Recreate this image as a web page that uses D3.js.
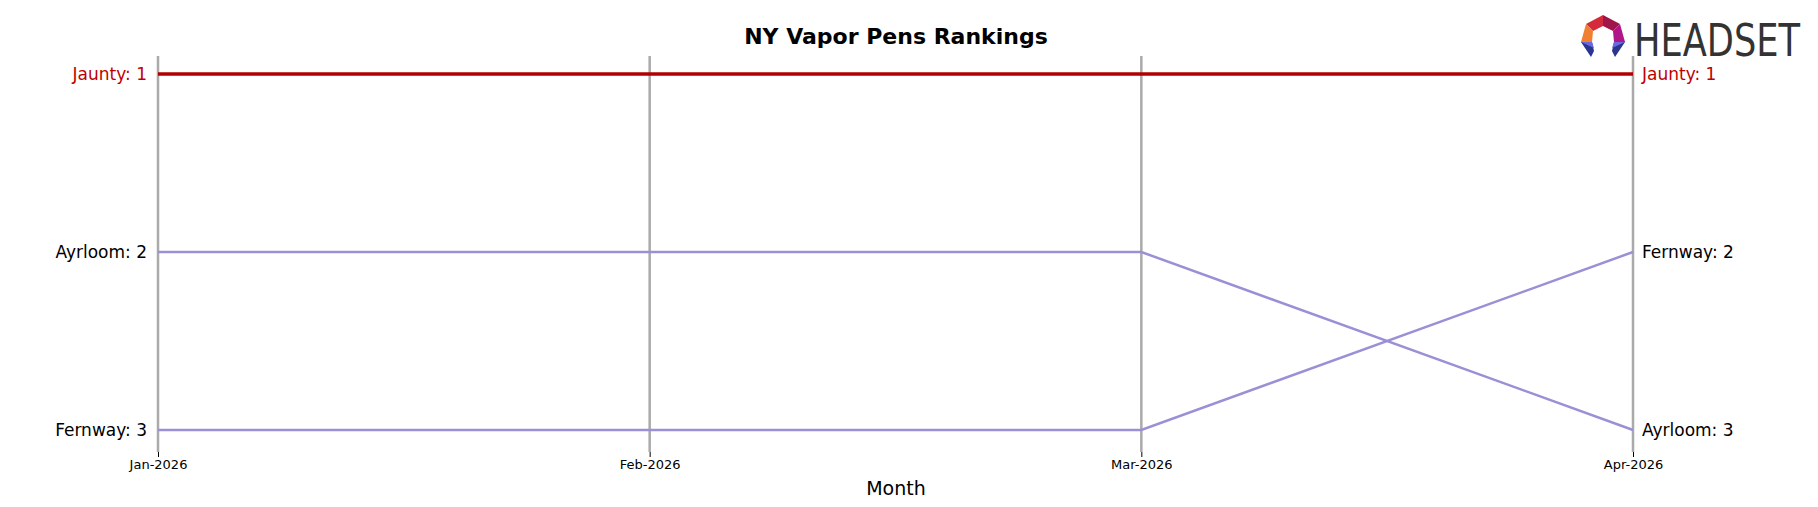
<!DOCTYPE html><html><head><meta charset="utf-8"><script src="https://cdn.jsdelivr.net/npm/d3@7"></script>
<style>body{margin:0;background:#fff}text{font-family:"DejaVu Sans",sans-serif}</style></head><body><svg id="c" width="1818" height="507"></svg>
<script>
const months=["Jan-2026","Feb-2026","Mar-2026","Apr-2026"];
const brands=["Jaunty","Ayrloom","Fernway"];
const jaunty=[1,1,1,1];
const ayrloom=[2,2,2,3];
const fernway=[3,3,3,2];
const series=[{name:"Ayrloom",v:ayrloom,c:"#9b8fd6",w:2.5},{name:"Fernway",v:fernway,c:"#9b8fd6",w:2.5},{name:"Jaunty",v:jaunty,c:"#b00000",w:3.5}];
const svg=d3.select("#c");
const x=d3.scalePoint().domain(months).range([158,1633]);
const y=d3.scaleLinear().domain([1,3]).range([74,430]);
months.forEach(m=>svg.append("line").attr("x1",x(m)).attr("x2",x(m)).attr("y1",56).attr("y2",452).attr("stroke","#aaa").attr("stroke-width",2.5));
const ax=svg.append("g").attr("transform","translate(0,452)").call(d3.axisBottom(x).tickSize(5).tickPadding(3));
ax.select(".domain").remove();
ax.selectAll("text").attr("font-size",13).attr("fill","#000").style("font-family","DejaVu Sans");
const line=d3.line().x((d,i)=>x(months[i])).y(d=>y(d));
series.forEach(s=>{
 svg.append("path").datum(s.v).attr("d",line).attr("fill","none").attr("stroke",s.c).attr("stroke-width",s.w);
 const col=s.name==="Jaunty"?"#c00000":"#000";
 svg.append("text").attr("x",x(months[0])-11).attr("y",y(s.v[0])).attr("dy","0.35em").attr("text-anchor","end").attr("font-size",17).attr("fill",col).text(s.name+": "+s.v[0]);
 svg.append("text").attr("x",x(months[3])+9).attr("y",y(s.v[3])).attr("dy","0.35em").attr("font-size",17).attr("fill",col).text(s.name+": "+s.v[3]);
});
svg.append("text").attr("x",896).attr("y",44).attr("text-anchor","middle").attr("font-size",22).attr("font-weight","bold").text("NY Vapor Pens Rankings");
svg.append("text").attr("x",896).attr("y",495).attr("text-anchor","middle").attr("font-size",19).text("Month");
const lg=svg.append("g").attr("transform","translate(1603,36)");
lg.append("path").attr("d","M0,-21L-17,-12L-10,-5L0,-10Z").attr("fill","#d42a3b");
lg.append("path").attr("d","M0,-21L17,-12L10,-5L0,-10Z").attr("fill","#a0154a");
lg.append("path").attr("d","M-17,-12L-22,6L-11,6L-10,-5Z").attr("fill","#f08030");
lg.append("path").attr("d","M17,-12L22,6L11,6L10,-5Z").attr("fill","#b0158a");
lg.append("path").attr("d","M-22,6L-12,21L-9,15L-11,6Z").attr("fill","#2b3590");
lg.append("path").attr("d","M22,6L12,21L9,15L11,6Z").attr("fill","#2b3590");
lg.append("path").attr("d","M-22,6L-11,6L-9,12Z").attr("fill","#6a6ae0");
lg.append("path").attr("d","M22,6L11,6L9,12Z").attr("fill","#6a6ae0");
svg.append("text").attr("x",1634).attr("y",56).attr("font-size",44).attr("fill","#333").attr("textLength",166).attr("lengthAdjust","spacingAndGlyphs").style("font-family","DejaVu Sans Condensed").text("HEADSET");
</script></body></html>
